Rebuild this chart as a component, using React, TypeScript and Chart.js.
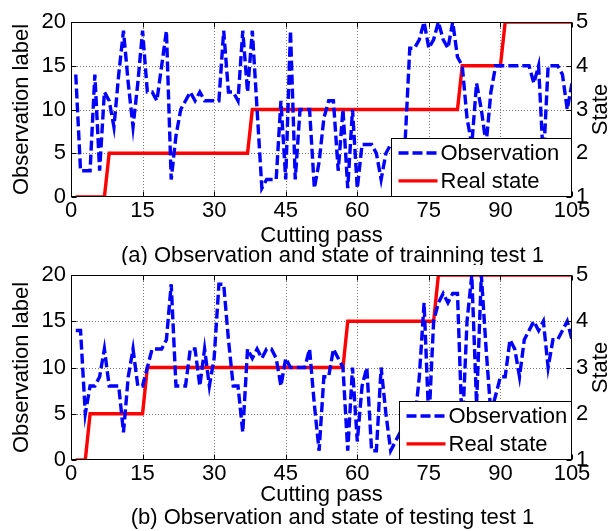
import React, { useEffect, useRef } from 'react';
import { Chart, registerables } from 'chart.js';

Chart.register(...registerables);

// Observation labels per cutting pass (training test 1)
const trainObs = [
  14, 3, 3, 3, 14, 3, 12, 11, 8, 14,
  19, 13, 8, 13, 19, 12, 12, 11, 15, 19,
  2, 7, 10, 11, 12, 11, 12, 11, 11, 11,
  11, 19, 12, 12, 11, 19, 12, 19, 10, 1,
  2, 2, 2, 11, 2, 19, 2, 10, 10, 10,
  1, 4, 9, 11, 11, 3, 10, 1, 10, 1,
  6, 6, 6, 5, 2, 5, 6, 6, 5, 6,
  17, 17, 18, 20, 17, 18, 20, 18, 17, 20,
  16, 15, 9, 6, 13, 10, 6, 12, 15, 15,
  15, 15, 15, 15, 15, 15, 13, 15, 4, 15,
  15, 15, 14, 10, 13,
];
// Real state per cutting pass (training test 1)
const trainState = [
  1, 1, 1, 1, 1, 1, 1, 2, 2, 2,
  2, 2, 2, 2, 2, 2, 2, 2, 2, 2,
  2, 2, 2, 2, 2, 2, 2, 2, 2, 2,
  2, 2, 2, 2, 2, 2, 2, 3, 3, 3,
  3, 3, 3, 3, 3, 3, 3, 3, 3, 3,
  3, 3, 3, 3, 3, 3, 3, 3, 3, 3,
  3, 3, 3, 3, 3, 3, 3, 3, 3, 3,
  3, 3, 3, 3, 3, 3, 3, 3, 3, 3,
  3, 4, 4, 4, 4, 4, 4, 4, 4, 4,
  5, 5, 5, 5, 5, 5, 5, 5, 5, 5,
  5, 5, 5, 5, 5,
];
// Observation labels per cutting pass (testing test 1)
const testObs = [
  14, 14, 5, 8, 8, 9, 12, 8, 8, 8,
  3, 9, 12, 8, 8, 10, 12, 12, 12, 13,
  19, 8, 8, 8, 12, 12, 8, 12, 8, 11,
  19, 19, 13, 8, 8, 3, 12, 11, 12, 11,
  12, 12, 11, 8, 11, 10, 10, 10, 10, 12,
  6, 1, 9, 9, 12, 11, 10, 1, 10, 2,
  8, 10, 1, 1, 10, 5, 1, 2, 3, 3,
  2, 4, 9, 17, 4, 15, 17, 18, 17, 18,
  18, 3, 15, 20, 6, 20, 12, 5, 7, 9,
  9, 13, 12, 9, 13, 14, 15, 14, 15, 10,
  13, 13, 14, 15, 13,
];
// Real state per cutting pass (testing test 1)
const testState = [
  1, 1, 1, 2, 2, 2, 2, 2, 2, 2,
  2, 2, 2, 2, 2, 3, 3, 3, 3, 3,
  3, 3, 3, 3, 3, 3, 3, 3, 3, 3,
  3, 3, 3, 3, 3, 3, 3, 3, 3, 3,
  3, 3, 3, 3, 3, 3, 3, 3, 3, 3,
  3, 3, 3, 3, 3, 3, 3, 4, 4, 4,
  4, 4, 4, 4, 4, 4, 4, 4, 4, 4,
  4, 4, 4, 4, 4, 4, 5, 5, 5, 5,
  5, 5, 5, 5, 5, 5, 5, 5, 5, 5,
  5, 5, 5, 5, 5, 5, 5, 5, 5, 5,
  5, 5, 5, 5, 5,
];

const xTicks = [0, 15, 30, 45, 60, 75, 90, 105];
const obsTicks = [0, 5, 10, 15, 20];
const stateTicks = [1, 2, 3, 4, 5];
const seriesNames = ['Observation', 'Real state'];
const xTitle = 'Cutting pass';
const yTitle = 'Observation label';
const y2Title = 'State';
const captions = [
  '(a) Observation and state of trainning test 1',
  '(b) Observation and state of testing test 1',
];

const FONT = '"Liberation Sans", Arial, sans-serif';
const FS = 22;
const BLUE = '#0000ff';
const RED = '#ff0000';

type PanelOpts = {
  obs: number[];
  state: number[];
  padTop: number;
  xH: number;
  caption: string;
  legendX: number;
  legendY: number;
  xlabelY: number;
  captionY: number;
};

function makePanel(canvas: HTMLCanvasElement, o: PanelOpts) {
  const toPts = (arr: number[]) => arr.map((v, i) => ({ x: i + 1, y: v }));
  const setTicks = (vals: number[]) => (s: any) => {
    s.ticks = vals.map((value) => ({ value }));
  };
  const decor = {
    id: 'decor',
    beforeDatasetsDraw(chart: any) {
      const { ctx, chartArea: a, scales } = chart;
      ctx.save();
      ctx.strokeStyle = '#7a7a7a';
      ctx.lineWidth = 1;
      ctx.setLineDash([1, 2]);
      xTicks.forEach((v) => {
        const px = Math.round(scales.x.getPixelForValue(v)) + 0.5;
        if (px <= a.left + 1 || px >= a.right - 1) return;
        ctx.beginPath();
        ctx.moveTo(px, a.top);
        ctx.lineTo(px, a.bottom);
        ctx.stroke();
      });
      obsTicks.forEach((v) => {
        const py = Math.round(scales.y.getPixelForValue(v)) + 0.5;
        if (py <= a.top + 1 || py >= a.bottom - 1) return;
        ctx.beginPath();
        ctx.moveTo(a.left, py);
        ctx.lineTo(a.right, py);
        ctx.stroke();
      });
      ctx.restore();
    },
    afterDatasetsDraw(chart: any) {
      const { ctx, chartArea: a, scales } = chart;
      ctx.save();
      ctx.setLineDash([]);
      ctx.strokeStyle = '#000';
      ctx.lineWidth = 1;
      const L = Math.round(a.left) + 0.5;
      const R = Math.round(a.right) - 0.5;
      const T = Math.round(a.top) + 0.5;
      const B = Math.round(a.bottom) - 0.5;
      const tl = 5;
      ctx.beginPath();
      xTicks.forEach((v) => {
        const px = Math.round(scales.x.getPixelForValue(v)) + 0.5;
        ctx.moveTo(px, B);
        ctx.lineTo(px, B - tl);
        ctx.moveTo(px, T);
        ctx.lineTo(px, T + tl);
      });
      obsTicks.forEach((v) => {
        const py = Math.round(scales.y.getPixelForValue(v)) + 0.5;
        ctx.moveTo(L, py);
        ctx.lineTo(L + tl, py);
      });
      stateTicks.forEach((v) => {
        const py = Math.round(scales.y2.getPixelForValue(v)) + 0.5;
        ctx.moveTo(R, py);
        ctx.lineTo(R - tl, py);
      });
      ctx.stroke();

      // legend
      const lx = o.legendX + 0.5;
      const ly = o.legendY + 0.5;
      const lw = R - lx;
      const lh = B - ly;
      ctx.fillStyle = '#fff';
      ctx.fillRect(lx, ly, lw, lh);
      ctx.strokeRect(lx, ly, lw, lh);
      const row1 = ly + lh * 0.25;
      const row2 = ly + lh * 0.73;
      ctx.lineWidth = 3.4;
      ctx.strokeStyle = BLUE;
      ctx.setLineDash([10, 4]);
      ctx.beginPath();
      ctx.moveTo(lx + 7, row1);
      ctx.lineTo(lx + 46, row1);
      ctx.stroke();
      ctx.setLineDash([]);
      ctx.strokeStyle = RED;
      ctx.beginPath();
      ctx.moveTo(lx + 7, row2);
      ctx.lineTo(lx + 46, row2);
      ctx.stroke();
      ctx.fillStyle = '#000';
      ctx.font = `${FS}px ${FONT}`;
      ctx.textAlign = 'left';
      ctx.textBaseline = 'middle';
      ctx.fillText(seriesNames[0], lx + 49, row1 + 1);
      ctx.fillText(seriesNames[1], lx + 49, row2 + 1);

      // box
      ctx.lineWidth = 1;
      ctx.strokeStyle = '#000';
      ctx.strokeRect(L, T, R - L, B - T);
      ctx.restore();
    },
    afterDraw(chart: any) {
      const { ctx, chartArea: a } = chart;
      ctx.save();
      ctx.fillStyle = '#000';
      ctx.font = `${FS}px ${FONT}`;
      ctx.textAlign = 'center';
      ctx.textBaseline = 'middle';
      const cx = (a.left + a.right) / 2;
      ctx.fillText(xTitle, cx, o.xlabelY);
      ctx.fillText(o.caption, cx + 11, o.captionY);
      const cy = (a.top + a.bottom) / 2;
      ctx.save();
      ctx.translate(22, cy);
      ctx.rotate(-Math.PI / 2);
      ctx.fillText(yTitle, 0, 0);
      ctx.restore();
      ctx.save();
      ctx.translate(601, cy);
      ctx.rotate(-Math.PI / 2);
      ctx.fillText(y2Title, 0, 0);
      ctx.restore();
      ctx.restore();
    },
  };

  const tickFont = { family: FONT, size: FS };
  return new Chart(canvas, {
    type: 'line',
    data: {
      datasets: [
        {
          label: seriesNames[0],
          data: toPts(o.obs),
          yAxisID: 'y',
          borderColor: BLUE,
          borderWidth: 3.4,
          borderDash: [10, 4],
          pointRadius: 0,
          tension: 0,
          fill: false,
        },
        {
          label: seriesNames[1],
          data: toPts(o.state),
          yAxisID: 'y2',
          borderColor: RED,
          borderWidth: 3.4,
          pointRadius: 0,
          tension: 0,
          fill: false,
        },
      ],
    },
    options: {
      animation: false,
      responsive: false,
      devicePixelRatio: 1,
      layout: { padding: { top: o.padTop, left: 0, right: 0, bottom: 0 } },
      plugins: { legend: { display: false }, tooltip: { enabled: false } },
      scales: {
        x: {
          type: 'linear',
          min: 0,
          max: 105,
          afterBuildTicks: setTicks(xTicks),
          afterFit: (s: any) => {
            s.height = o.xH;
            s.paddingLeft = 0;
            s.paddingRight = 0;
          },
          grid: { display: false, drawTicks: false },
          border: { display: false },
          ticks: { font: tickFont, color: '#000', padding: 1, maxRotation: 0, autoSkip: false },
        },
        y: {
          type: 'linear',
          position: 'left',
          min: 0,
          max: 20,
          afterBuildTicks: setTicks(obsTicks),
          afterFit: (s: any) => {
            s.width = 71;
            s.paddingTop = 0;
            s.paddingBottom = 0;
          },
          grid: { display: false, drawTicks: false },
          border: { display: false },
          ticks: { font: tickFont, color: '#000', padding: 5 },
        },
        y2: {
          type: 'linear',
          position: 'right',
          min: 1,
          max: 5,
          afterBuildTicks: setTicks(stateTicks),
          afterFit: (s: any) => {
            s.width = 40;
            s.paddingTop = 0;
            s.paddingBottom = 0;
          },
          grid: { display: false, drawTicks: false },
          border: { display: false },
          ticks: { font: tickFont, color: '#000', padding: 4 },
        },
      },
    },
    plugins: [decor],
  } as any);
}

export default function App() {
  const topRef = useRef<HTMLCanvasElement>(null);
  const botRef = useRef<HTMLCanvasElement>(null);

  useEffect(() => {
    const c1 = makePanel(topRef.current!, {
      obs: trainObs,
      state: trainState,
      padTop: 22,
      xH: 68,
      caption: captions[0],
      legendX: 391,
      legendY: 138,
      xlabelY: 236,
      captionY: 256,
    });
    const c2 = makePanel(botRef.current!, {
      obs: testObs,
      state: testState,
      padTop: 10,
      xH: 71,
      caption: captions[1],
      legendX: 399,
      legendY: 136,
      xlabelY: 230,
      captionY: 253,
    });
    return () => {
      c1.destroy();
      c2.destroy();
    };
  }, []);

  return (
    <div style={{ position: 'absolute', left: 0, top: 0, width: 612, height: 531, background: '#fff' }}>
      <canvas ref={topRef} width={612} height={265} style={{ position: 'absolute', left: 0, top: 0 }} />
      <canvas ref={botRef} width={612} height={266} style={{ position: 'absolute', left: 0, top: 265 }} />
    </div>
  );
}
